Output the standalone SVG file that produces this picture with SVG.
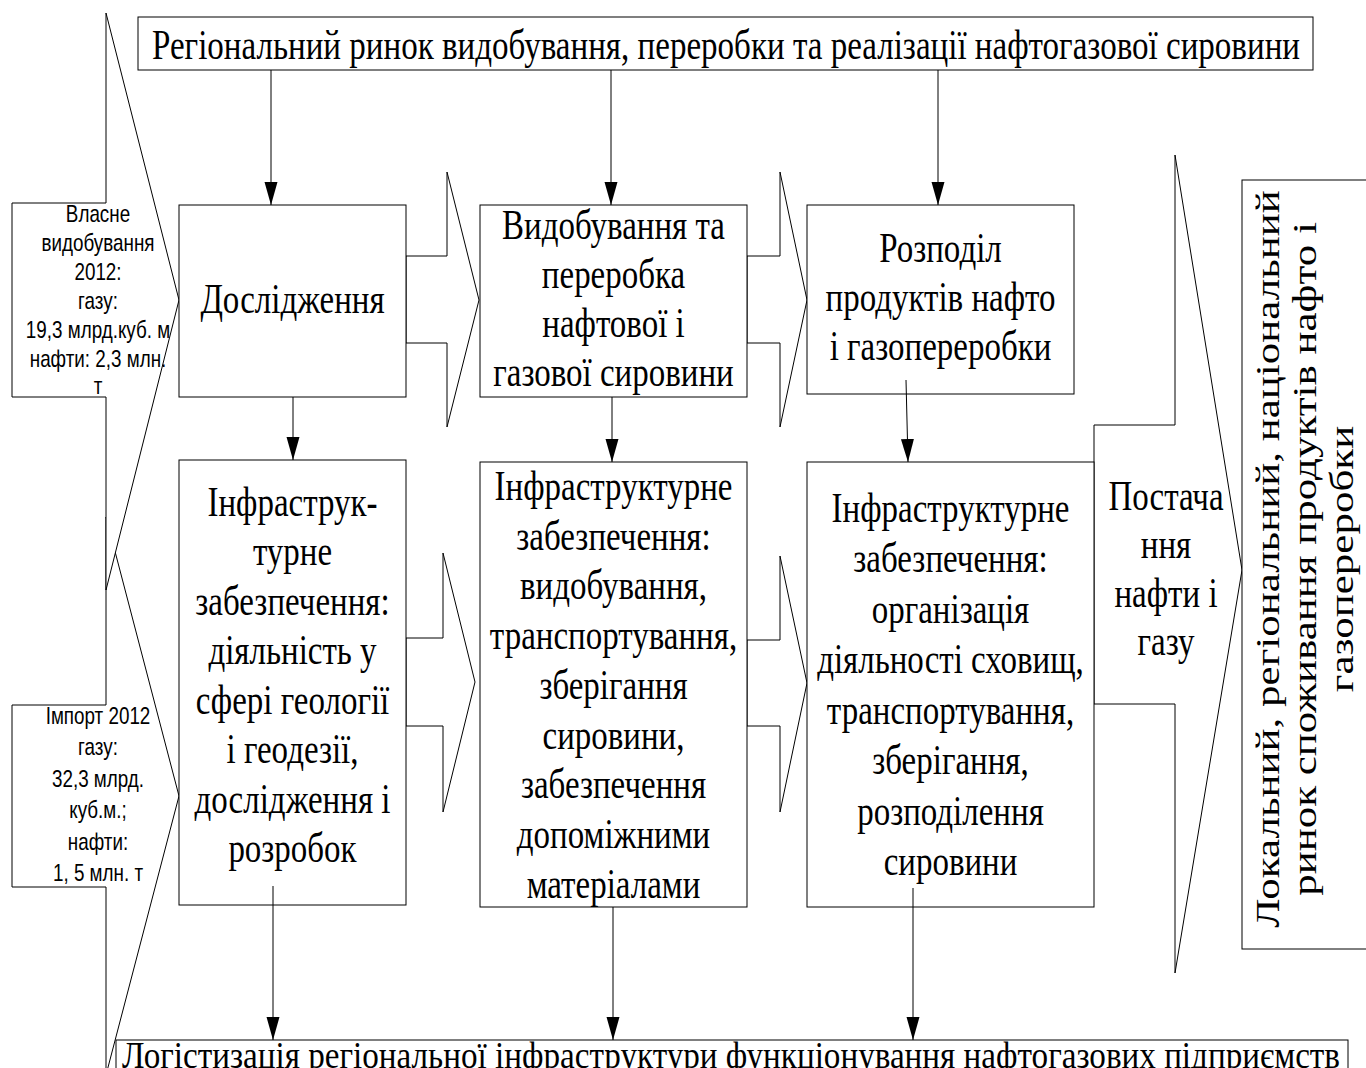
<svg xmlns="http://www.w3.org/2000/svg" width="1366" height="1068" viewBox="0 0 1366 1068">
<defs>
<style>
.bx{fill:#fff;stroke:#000;stroke-width:1}
.ln{fill:none;stroke:#000;stroke-width:1}
.s{font-family:"Liberation Serif","Times New Roman",serif;font-size:42px;text-anchor:middle;fill:#000}
.r{font-family:"Liberation Serif","Times New Roman",serif;font-size:43px;text-anchor:middle;fill:#000}
.a{font-family:"Liberation Sans",Arial,sans-serif;font-size:24px;text-anchor:middle;fill:#000}
</style>
<marker id="ah" markerUnits="userSpaceOnUse" markerWidth="24" markerHeight="14" refX="23" refY="6.5" orient="auto">
<path d="M0,0 L23,6.5 L0,13 Z" fill="#000"/>
</marker>
</defs>
<rect width="1366" height="1068" fill="#fff"/>

<g id="import-arrow">
<polygon class="bx" points="106,517 179,796 106,1075 106,887 12,887 12,705 106,705"/>
<g transform="matrix(0.785 0 0 1 98 0)">
<text class="a" x="0" y="724">Імпорт 2012</text>
<text class="a" x="0" y="755.5">газу:</text>
<text class="a" x="0" y="787">32,3 млрд.</text>
<text class="a" x="0" y="818.5">куб.м.;</text>
<text class="a" x="0" y="850">нафти:</text>
<text class="a" x="0" y="881.5">1, 5 млн. т</text>
</g>
</g>

<g id="own-production-arrow">
<polygon class="bx" points="106,13 179,300 106,590 106,397 12,397 12,203 106,203"/>
<g transform="matrix(0.785 0 0 1 98 0)">
<text class="a" x="0" y="222">Власне</text>
<text class="a" x="0" y="251">видобування</text>
<text class="a" x="0" y="280">2012:</text>
<text class="a" x="0" y="309">газу:</text>
<text class="a" x="0" y="338">19,3 млрд.куб. м</text>
<text class="a" x="0" y="367">нафти: 2,3 млн.</text>
<text class="a" x="0" y="394">т</text>
</g>
</g>

<g id="supply-arrow">
<polygon class="bx" points="1175,155 1242,570 1175,973 1175,704 1094,704 1094,425 1175,425"/>
<g transform="matrix(0.785 0 0 1 1166 0)">
<text class="s" x="0" y="510">Постача</text>
<text class="s" x="0" y="558.5">ння</text>
<text class="s" x="0" y="607">нафти і</text>
<text class="s" x="0" y="655.5">газу</text>
</g>
</g>

<g id="connectors">
<polygon class="bx" points="406,256 447,256 447,172 479,300 447,427 447,343 406,343"/>
<polygon class="bx" points="747,256 780,256 780,172 807,300 780,427 780,343 747,343"/>
<polygon class="bx" points="406,638 443,638 443,553 475,682 443,812 443,726 406,726"/>
<polygon class="bx" points="747,640 780,640 780,556 807,683 780,812 780,726 747,726"/>
</g>

<g id="regional-market">
<rect class="bx" x="138" y="17" width="1175" height="53"/>
<text class="s" x="726" y="59" textLength="1148" lengthAdjust="spacingAndGlyphs">Регіональний ринок видобування, переробки та реалізації нафтогазової сировини</text>
</g>

<g id="research">
<rect class="bx" x="179" y="205" width="227" height="192"/>
<g transform="matrix(0.785 0 0 1 292.5 0)">
<text class="s" x="0" y="313">Дослідження</text>
</g>
</g>

<g id="extraction">
<rect class="bx" x="480" y="205" width="267" height="192"/>
<g transform="matrix(0.785 0 0 1 613.5 0)">
<text class="s" x="0" y="239">Видобування та</text>
<text class="s" x="0" y="288">переробка</text>
<text class="s" x="0" y="337">нафтової і</text>
<text class="s" x="0" y="386">газової сировини</text>
</g>
</g>

<g id="distribution">
<rect class="bx" x="807" y="205" width="267" height="189"/>
<g transform="matrix(0.785 0 0 1 940.5 0)">
<text class="s" x="0" y="262">Розподіл</text>
<text class="s" x="0" y="311">продуктів нафто</text>
<text class="s" x="0" y="360">і газопереробки</text>
</g>
</g>

<g id="infra-geology">
<rect class="bx" x="179" y="460" width="227" height="445"/>
<g transform="matrix(0.785 0 0 1 292.5 0)">
<text class="s" x="0" y="516">Інфраструк-</text>
<text class="s" x="0" y="565.5">турне</text>
<text class="s" x="0" y="615">забезпечення:</text>
<text class="s" x="0" y="664.5">діяльність у</text>
<text class="s" x="0" y="714">сфері геології</text>
<text class="s" x="0" y="763.5">і геодезії,</text>
<text class="s" x="0" y="813">дослідження і</text>
<text class="s" x="0" y="862.5">розробок</text>
</g>
</g>

<g id="infra-extraction">
<rect class="bx" x="480" y="462" width="267" height="445"/>
<g transform="matrix(0.785 0 0 1 613.5 0)">
<text class="s" x="0" y="500">Інфраструктурне</text>
<text class="s" x="0" y="549.75">забезпечення:</text>
<text class="s" x="0" y="599.5">видобування,</text>
<text class="s" x="0" y="649.25">транспортування,</text>
<text class="s" x="0" y="699">зберігання</text>
<text class="s" x="0" y="748.75">сировини,</text>
<text class="s" x="0" y="798.5">забезпечення</text>
<text class="s" x="0" y="848.25">допоміжними</text>
<text class="s" x="0" y="898">матеріалами</text>
</g>
</g>

<g id="infra-distribution">
<rect class="bx" x="807" y="462" width="287" height="445"/>
<g transform="matrix(0.785 0 0 1 950.5 0)">
<text class="s" x="0" y="522">Інфраструктурне</text>
<text class="s" x="0" y="572.5">забезпечення:</text>
<text class="s" x="0" y="623">організація</text>
<text class="s" x="0" y="673.5">діяльності сховищ,</text>
<text class="s" x="0" y="724">транспортування,</text>
<text class="s" x="0" y="774.5">зберігання,</text>
<text class="s" x="0" y="825">розподілення</text>
<text class="s" x="0" y="875.5">сировини</text>
</g>
</g>

<g id="consumer-market">
<rect class="bx" x="1242" y="180" width="130" height="769"/>
<g transform="translate(1279 559) scale(0.785 1) rotate(-90)">
<text class="r" x="0" y="0">Локальний, регіональний, національний</text>
<text class="r" x="0" y="47">ринок споживання продуктів нафто і</text>
<text class="r" x="0" y="94">газопереробки</text>
</g>
</g>

<g id="logistics">
<rect class="bx" x="116" y="1040" width="1232" height="40"/>
<text class="s" x="731" y="1068" style="font-size:37px" textLength="1218" lengthAdjust="spacingAndGlyphs">Логістизація регіональної інфраструктури функціонування нафтогазових підприємств</text>
</g>

<g id="flow-lines">
<line class="ln" x1="271" y1="70" x2="271" y2="205" marker-end="url(#ah)"/>
<line class="ln" x1="611" y1="70" x2="611" y2="205" marker-end="url(#ah)"/>
<line class="ln" x1="938" y1="70" x2="938" y2="205" marker-end="url(#ah)"/>
<line class="ln" x1="293" y1="397" x2="293" y2="460" marker-end="url(#ah)"/>
<line class="ln" x1="612" y1="397" x2="612" y2="462" marker-end="url(#ah)"/>
<line class="ln" x1="906" y1="380" x2="908" y2="462" marker-end="url(#ah)"/>
<line class="ln" x1="273" y1="886" x2="273" y2="1040" marker-end="url(#ah)"/>
<line class="ln" x1="613" y1="907" x2="613" y2="1040" marker-end="url(#ah)"/>
<line class="ln" x1="913" y1="888" x2="913" y2="1040" marker-end="url(#ah)"/>
</g>
</svg>
